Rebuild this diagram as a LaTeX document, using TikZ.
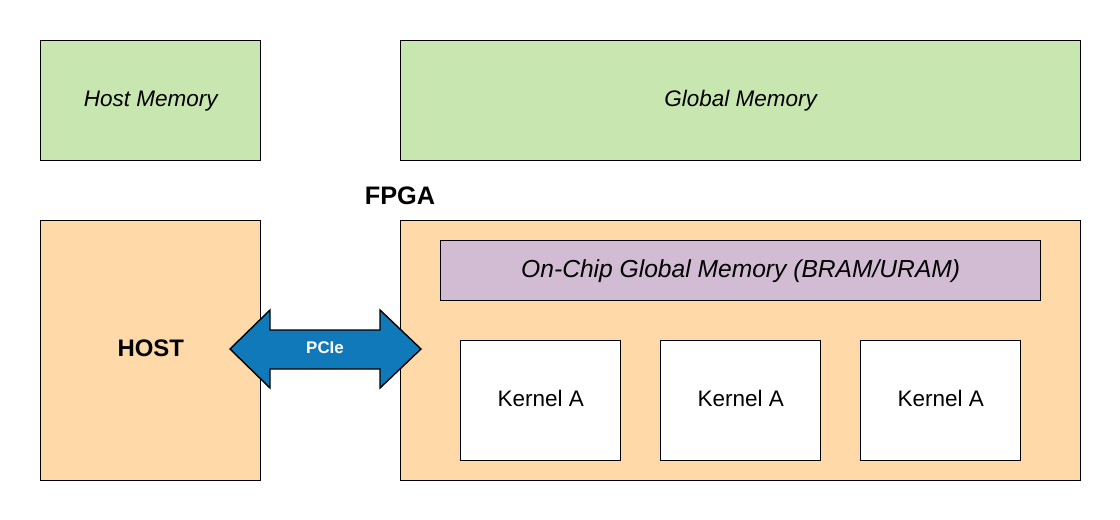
\documentclass[tikz,border=0pt]{standalone}
\usepackage{fontspec}
\setmainfont{Liberation Sans}
\usepackage{xcolor}
\usepackage{tikz}
\usetikzlibrary{positioning,calc}

\definecolor{memgreen}{HTML}{C8E6B0}
\definecolor{hostorange}{HTML}{FFD9A8}
\definecolor{onchip}{HTML}{D2BCD3}
\definecolor{pcieblue}{HTML}{1079BA}

\tikzset{
  box/.style={draw=black, line width=1pt, anchor=north west, inner sep=0pt},
  membox/.style={box, fill=memgreen, font=\fontsize{16}{18}\selectfont\itshape},
  kernelbox/.style={box, fill=white, text depth=0.35em, font=\fontsize{16}{18}\selectfont}
}

\begin{document}
\begin{tikzpicture}[x=0.025cm, y=-0.025cm]
\useasboundingbox (0,0) rectangle (1120,520);
% memories
\node[membox, minimum width=220*0.025cm, minimum height=120*0.025cm] (hostmem) at (40,40) {Host Memory};
\node[membox, minimum width=680*0.025cm, minimum height=120*0.025cm] (globalmem) at (400,40) {Global Memory};
% host and fpga
\node[box, fill=hostorange, minimum width=220*0.025cm, minimum height=260*0.025cm, text depth=0.35em, font=\fontsize{17}{20}\selectfont\bfseries] (host) at (40,220) {HOST};
\node[box, fill=hostorange, minimum width=680*0.025cm, minimum height=260*0.025cm] (fpga) at (400,220) {};
\node[font=\fontsize{18}{20}\selectfont\bfseries] (fpgalabel) at (400,196) {FPGA};
\node[box, fill=onchip, minimum width=600*0.025cm, minimum height=60*0.025cm, font=\fontsize{17.5}{20}\selectfont\itshape] (onchipmem) at (440,240) {On-Chip Global Memory (BRAM/URAM)};
% kernels
\foreach \x/\n in {460/ka, 660/kb, 860/kc}
  \node[kernelbox, minimum width=160*0.025cm, minimum height=120*0.025cm] (\n) at (\x,340) {Kernel A};
% pcie link
\draw[line width=1pt, fill=pcieblue] (230,349) -- (270,310) -- (270,330) -- (380,330) -- (380,310)
  -- (421,349) -- (380,388) -- (380,369) -- (270,369) -- (270,388) -- cycle;
\node[text=white, font=\fontsize{12}{14}\selectfont\bfseries] (pcie) at (325,348) {PCIe};
\end{tikzpicture}
\end{document}
